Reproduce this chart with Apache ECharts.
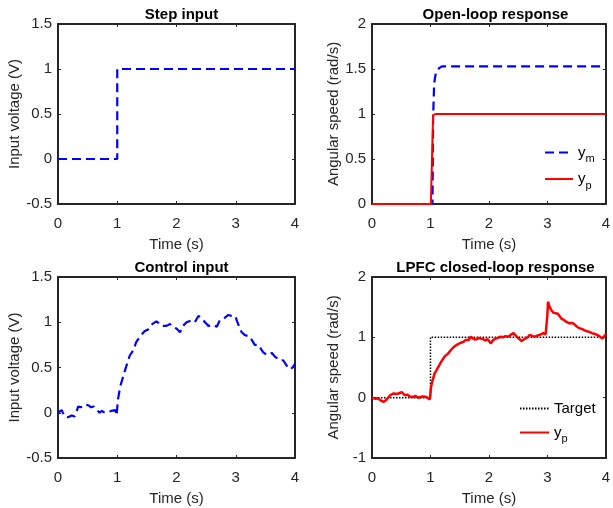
<!DOCTYPE html>
<html>
<head>
<meta charset="utf-8">
<script src="https://cdn.jsdelivr.net/npm/echarts@6/dist/echarts.min.js"></script>
<style>
html,body{margin:0;padding:0;background:#fff;}
#c{width:613px;height:508px;}
</style>
</head>
<body>
<div id="c"></div>
<script>
// ---- Data ----
const xTicks = [0, 1, 2, 3, 4];

// Step input
const stepT = [0, 1, 1, 4];
const stepV = [0, 0, 1, 1];

// Open-loop response
const olYmT = [0, 1.035, 1.046, 1.063, 1.09, 1.148, 1.2, 4];
const olYmV = [0, 0, 0.97, 1.34, 1.45, 1.51, 1.53, 1.53];
const olYpT = [0, 1.007, 1.045, 1.1, 4];
const olYpV = [0, 0, 0.99, 1.0, 1.0];

// Control input
const ctrlT = [0, 0.03, 0.06, 0.09, 0.11, 0.14, 0.17, 0.2, 0.23, 0.26, 0.28, 0.31, 0.34, 0.38, 0.42, 0.46, 0.49, 0.52, 0.56, 0.6, 0.65, 0.7, 0.74, 0.79, 0.85, 0.9, 0.93, 0.97, 0.99,
  1.01, 1.05, 1.1, 1.15, 1.21, 1.27, 1.32, 1.38, 1.46, 1.52, 1.59, 1.66, 1.7, 1.75, 1.83, 1.89, 1.94, 2.0, 2.06, 2.11, 2.17, 2.25, 2.31, 2.37, 2.42, 2.48, 2.54, 2.62, 2.68, 2.73, 2.8, 2.87, 2.93, 2.99,
  3.04, 3.1, 3.15, 3.24, 3.32, 3.38, 3.46, 3.52, 3.61, 3.66, 3.75, 3.8, 3.86, 3.92, 3.96, 4.0];
const ctrlV = [0.0, 0.02, 0.03, -0.01, -0.04, -0.02, -0.05, -0.04, -0.03, -0.05, -0.04, 0.0, 0.07, 0.06, 0.07, 0.09, 0.1, 0.08, 0.06, 0.07, 0.04, 0.0, 0.02, 0.0, 0.01, 0.02, 0.01, 0.03, -0.03,
  0.14, 0.29, 0.4, 0.51, 0.63, 0.69, 0.78, 0.84, 0.9, 0.92, 0.98, 1.01, 0.99, 0.96, 0.96, 0.98, 0.95, 0.93, 0.89, 0.96, 1.0, 1.02, 1.0, 1.07, 1.05, 1.0, 0.96, 0.97, 0.95, 1.02, 1.04, 1.08, 1.07, 1.07,
  0.98, 0.89, 0.86, 0.84, 0.75, 0.75, 0.67, 0.64, 0.66, 0.62, 0.58, 0.58, 0.52, 0.48, 0.5, 0.54];

// Closed-loop response
const tgtT = [0, 1, 1, 4];
const tgtV = [0, 0, 1, 1];
const clT = [0, 0.03, 0.06, 0.1, 0.14, 0.17, 0.2, 0.25, 0.28, 0.31, 0.34, 0.37, 0.41, 0.45, 0.48, 0.51, 0.54, 0.56, 0.6, 0.65, 0.7, 0.74, 0.79, 0.83, 0.87, 0.9, 0.93, 0.96, 0.99,
  1.01, 1.04, 1.07, 1.1, 1.13, 1.18, 1.24, 1.3, 1.35, 1.4, 1.44, 1.48, 1.52, 1.57, 1.61, 1.65, 1.69, 1.73, 1.77, 1.82, 1.86, 1.9, 1.94, 1.98, 2.03, 2.07, 2.11, 2.15, 2.2, 2.24, 2.28, 2.33, 2.37, 2.42, 2.46, 2.51, 2.56, 2.62, 2.66, 2.7, 2.75, 2.79, 2.83, 2.87, 2.93, 2.97,
  3.0, 3.01, 3.04, 3.07, 3.1, 3.13, 3.18, 3.24, 3.28, 3.32, 3.38, 3.42, 3.46, 3.5, 3.55, 3.59, 3.63, 3.68, 3.72, 3.76, 3.8, 3.85, 3.89, 3.94, 3.97, 4.0];
const clV = [0.0, -0.01, -0.02, -0.01, -0.04, -0.05, -0.07, -0.03, 0.0, 0.04, 0.05, 0.07, 0.06, 0.07, 0.05, 0.09, 0.06, 0.04, 0.05, 0.02, 0.01, 0.03, 0.0, 0.01, 0.02, 0.0, 0.01, 0.0, -0.03,
  0.18, 0.3, 0.4, 0.45, 0.48, 0.59, 0.68, 0.73, 0.79, 0.84, 0.87, 0.89, 0.91, 0.93, 0.96, 0.95, 1.01, 0.98, 0.96, 0.99, 0.98, 0.97, 0.95, 0.97, 0.9, 0.95, 0.98, 0.99, 1.01, 1.0, 1.02, 1.01, 1.04, 1.07, 1.03, 0.98, 0.94, 0.98, 1.0, 1.04, 1.02, 1.01, 1.03, 1.04, 1.07, 1.05,
  1.37, 1.59, 1.5, 1.45, 1.41, 1.4, 1.39, 1.31, 1.29, 1.26, 1.23, 1.24, 1.22, 1.18, 1.15, 1.14, 1.12, 1.1, 1.09, 1.07, 1.06, 1.04, 1.02, 0.98, 1.0, 1.05];

// ---- Helpers ----
const zip = (t, v) => t.map((x, i) => [x, v[i]]);
const FONT = "'Liberation Sans', Arial, Helvetica, sans-serif";
const AX = '#262626';

const gridBoxes = [
  {left: 58, top: 24, width: 237, height: 180},
  {left: 372, top: 24, width: 237, height: 180},
  {left: 58, top: 277, width: 237, height: 181},
  {left: 372, top: 277, width: 237, height: 181}
];
const yRanges = [
  {min: -0.5, max: 1.5, interval: 0.5, name: 'Input voltage (V)', gap: 35},
  {min: 0, max: 2, interval: 0.5, name: 'Angular speed (rad/s)', gap: 31},
  {min: -0.5, max: 1.5, interval: 0.5, name: 'Input voltage (V)', gap: 35},
  {min: -1, max: 2, interval: 1, name: 'Angular speed (rad/s)', gap: 31}
];
const titles = ['Step input', 'Open-loop response', 'Control input', 'LPFC closed-loop response'];

const xAxes = [], yAxes = [], titleOpts = [];
gridBoxes.forEach((g, i) => {
  const lineCfg = {show: true, onZero: false, lineStyle: {color: AX, width: 2}};
  const tickCfg = {show: true, inside: true, length: 3, lineStyle: {color: AX, width: 1}};
  xAxes.push({
    gridIndex: i, type: 'value', position: 'bottom', min: xTicks[0], max: xTicks[xTicks.length - 1], interval: 1,
    axisLine: lineCfg, axisTick: tickCfg, splitLine: {show: false},
    axisLabel: {color: AX, fontSize: 15, fontFamily: FONT, margin: 12},
    name: 'Time (s)', nameLocation: 'middle', nameGap: 33,
    nameTextStyle: {color: AX, fontSize: 15, fontFamily: FONT}
  });
  xAxes.push({
    gridIndex: i, type: 'value', position: 'top', min: xTicks[0], max: xTicks[xTicks.length - 1], interval: 1,
    axisLine: lineCfg, axisTick: tickCfg, splitLine: {show: false}, axisLabel: {show: false}
  });
  const yr = yRanges[i];
  yAxes.push({
    gridIndex: i, type: 'value', position: 'left', min: yr.min, max: yr.max, interval: yr.interval,
    axisLine: lineCfg, axisTick: tickCfg, splitLine: {show: false},
    axisLabel: {color: AX, fontSize: 15, fontFamily: FONT, margin: 6},
    name: yr.name, nameLocation: 'middle', nameGap: yr.gap,
    nameTextStyle: {color: AX, fontSize: 15, fontFamily: FONT}
  });
  yAxes.push({
    gridIndex: i, type: 'value', position: 'right', min: yr.min, max: yr.max, interval: yr.interval,
    axisLine: lineCfg, axisTick: tickCfg, splitLine: {show: false}, axisLabel: {show: false}
  });
  titleOpts.push({
    text: titles[i], left: g.left + g.width / 2, top: g.top - 22, textAlign: 'center',
    textStyle: {color: '#000', fontSize: 15, fontWeight: 'bold', fontFamily: FONT}
  });
});

const blueDash = {color: '#0000ff', width: 2.2, type: [9, 5]};
const redSolid = {color: '#ff0000', width: 2};
const redThick = {color: '#ff0000', width: 2.5};
const mkLine = (name, gi, data, ls, z) => ({
  name, type: 'line', xAxisIndex: 2 * gi, yAxisIndex: 2 * gi, data, symbol: 'none',
  lineStyle: ls, itemStyle: {color: ls.color}, z: z || 3, animation: false, clip: true
});

const rich = {
  a: {fontSize: 15, fontFamily: FONT, color: '#000'},
  s: {fontSize: 11, fontFamily: FONT, color: '#000', padding: [13, 0, 0, 0]}
};
const legendLabels = {ym: '{a|y}{s|m}', yp1: '{a|y}{s|p}', target: '{a|Target}', yp2: '{a|y}{s|p}'};

const option = {
  animation: false,
  title: titleOpts,
  grid: gridBoxes.map(g => Object.assign({containLabel: false}, g)),
  xAxis: xAxes,
  yAxis: yAxes,
  legend: [
    {data: ['ym', 'yp1'], orient: 'vertical', left: 544, top: 145, itemWidth: 28, itemHeight: 10, itemGap: 7,
     itemStyle: {opacity: 0}, formatter: n => legendLabels[n], textStyle: {rich}, padding: 0},
    {data: ['target', 'yp2'], orient: 'vertical', left: 519, top: 401, itemWidth: 29, itemHeight: 10, itemGap: 9,
     itemStyle: {opacity: 0}, formatter: n => legendLabels[n], textStyle: {rich}, padding: 0}
  ],
  series: [
    mkLine('step', 0, zip(stepT, stepV), blueDash),
    mkLine('ym', 1, zip(olYmT, olYmV), blueDash),
    mkLine('yp1', 1, zip(olYpT, olYpV), redSolid, 4),
    mkLine('ctrl', 2, zip(ctrlT, ctrlV), blueDash),
    mkLine('target', 3, zip(tgtT, tgtV), {color: '#000000', width: 1.5, type: [1.5, 1.5]}),
    mkLine('yp2', 3, zip(clT, clV), redThick, 4)
  ]
};
const chart = echarts.init(document.getElementById('c'), null, {renderer: 'canvas'});
chart.setOption(option);
</script>
</body>
</html>
